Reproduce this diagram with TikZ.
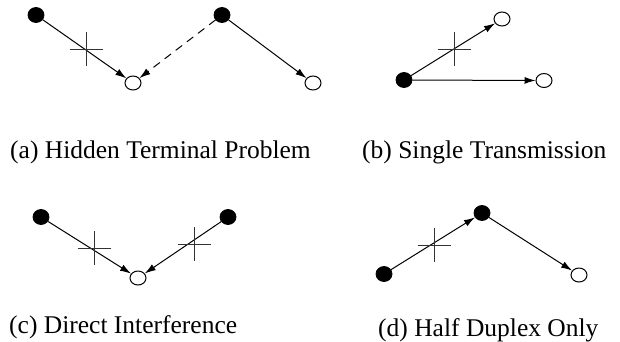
\documentclass[tikz,border=0pt]{standalone}
\usepackage{fontspec}
\setmainfont{Liberation Serif}
\newfontfamily\lblfont{Liberation Serif}
\usetikzlibrary{arrows.meta,shapes.geometric}
\tikzset{
  full/.style={ellipse,fill=black,draw=black,line width=0.8pt,minimum width=16pt,minimum height=15pt,inner sep=0pt},
  hollow/.style={ellipse,fill=white,draw=black,line width=1pt,minimum width=16pt,minimum height=14pt,inner sep=0pt},
  link/.style={line width=1pt,-{Latex[length=11pt,width=7pt]}},
  dlink/.style={link,dash pattern=on 8pt off 6pt},
  lbl/.style={anchor=base west,inner sep=0pt,font=\lblfont\fontsize{25.5}{30}\selectfont},
  pics/crossmark/.style={code={
    \draw[line width=0.7pt,black!80] (-16.5,0) -- (16.5,0);
    \draw[line width=0.7pt,black!80] (0,-17) -- (0,17);
  }}
}
\begin{document}
\begin{tikzpicture}[x=1pt,y=-1pt]
\useasboundingbox (0,0) rectangle (620,341);
% (a)
\node[full] (a1) at (36,15) {};
\node[hollow] (a2) at (133,83) {};
\node[full] (a3) at (222,15) {};
\node[hollow] (a4) at (313,83) {};
\draw[link] (a1) -- (a2);
\draw[dlink] (a3) -- (a2);
\draw[link] (a3) -- (a4);
\pic at (86,49) {crossmark};
\node[lbl] (la) at (10,158) {(a) Hidden Terminal Problem};
% (b)
\node[full] (b1) at (404,80) {};
\node[hollow] (b2) at (502,19) {};
\node[hollow] (b3) at (544,80.5) {};
\draw[link] (b1) -- (b2);
\draw[link] (b1) -- (b3);
\pic at (454,49) {crossmark};
\node[lbl] (lb) at (362,158) {(b) Single Transmission};
% (c)
\node[full] (c1) at (41,217) {};
\node[full] (c2) at (228,217) {};
\node[hollow] (c3) at (138,278) {};
\draw[link] (c1) -- (c3);
\draw[link] (c2) -- (c3);
\pic at (94,248) {crossmark};
\pic at (194,244) {crossmark};
\node[lbl] (lc) at (9,333) {(c) Direct Interference};
% (d)
\node[full] (d1) at (384,274) {};
\node[full] (d2) at (482,213) {};
\node[hollow] (d3) at (579,275) {};
\draw[link] (d1) -- (d2);
\draw[link] (d2) -- (d3);
\pic at (434,245) {crossmark};
\node[lbl] (ld) at (378,336) {(d) Half Duplex Only};
\end{tikzpicture}
\end{document}
